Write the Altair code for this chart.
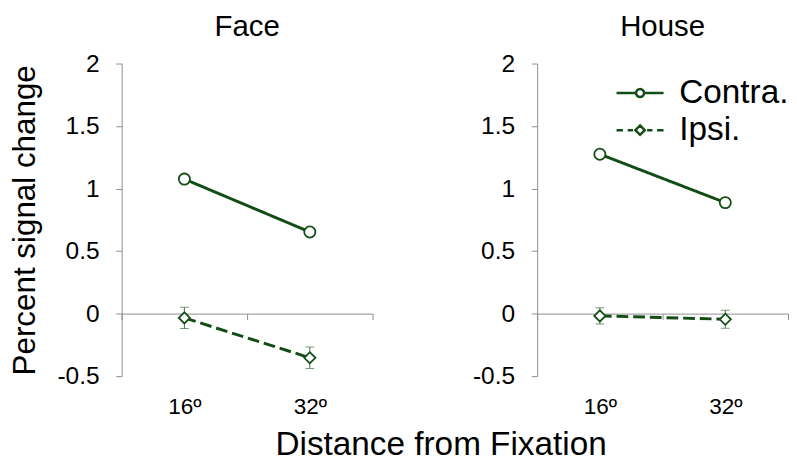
import json
import altair as alt
import pandas as pd

# ---- data ----
categories = ["Face", "Face", "Face", "Face", "House", "House", "House", "House"]
sides = ["Contra.", "Contra.", "Ipsi.", "Ipsi.", "Contra.", "Contra.", "Ipsi.", "Ipsi."]
distances = ["16º", "32º", "16º", "32º", "16º", "32º", "16º", "32º"]
means = [1.076, 0.653, -0.034, -0.353, 1.275, 0.888, -0.018, -0.045]
errors = [None, None, 0.085, 0.086, None, None, 0.065, 0.072]
dist_levels = ["16º", "32º"]
side_levels = ["Contra.", "Ipsi."]
y_ticks = [-0.5, 0, 0.5, 1, 1.5, 2]

df = pd.DataFrame({
    "category": categories,
    "side": sides,
    "dist": distances,
    "mean": means,
    "err": errors,
})
df["xpos"] = [dist_levels.index(d) + 0.5 for d in distances]
df["marker"] = df["side"]

GREEN = "#124d16"
ERRC = "#3f6d3f"
GRAY = "#8c8c8c"
FONT = "Liberation Sans"
W, H = 256, 319

# legend glyphs: line with open circle / dashed line with open diamond
LEG_CONTRA = ("M-2,0L-0.34,0M0.34,0L2,0M0.34,0A0.34,0.34,0,1,1,-0.34,0"
              "A0.34,0.34,0,1,1,0.34,0Z")
LEG_IPSI = ("M-2,0L-1.45,0M-1.05,0L-0.6,0M0.6,0L1.05,0M1.45,0L2,0"
            "M0,-0.4L0.4,0L0,0.4L-0.4,0Z")

xscale = alt.Scale(domain=[0, len(dist_levels)], nice=False, zero=False)
yscale = alt.Scale(domain=[y_ticks[0], y_ticks[-1]], nice=False, zero=False)
label_expr = json.dumps(dist_levels, ensure_ascii=False) + "[floor(datum.value)]"


def panel(cat, y_title, with_legend):
    base = alt.Chart(df).transform_filter(alt.datum.category == cat)
    yaxis = alt.Axis(values=y_ticks, labelExpr="toString(datum.value)", grid=False,
                     tickSize=6, tickColor=GRAY, domainColor=GRAY, labelFontSize=25,
                     labelPadding=17, labelColor="black", labelFont=FONT,
                     titleFontSize=32, titleFontWeight="normal", titleFont=FONT,
                     titleColor="black", titlePadding=16)

    def Y(field):
        return alt.Y(field, type="quantitative", scale=yscale, axis=yaxis, title=y_title)

    axis_zero = alt.Axis(orient="bottom", values=list(range(len(dist_levels) + 1)),
                         labels=False, grid=False, tickSize=6, tickColor=GRAY,
                         domainColor=GRAY, offset=-H * (0 - y_ticks[0]) / (y_ticks[-1] - y_ticks[0]),
                         title=None)
    axis_lab = alt.Axis(orient="bottom", values=[i + 0.5 for i in range(len(dist_levels))],
                        labelExpr=label_expr, domain=False, ticks=False, grid=False,
                        labelFontSize=23, labelPadding=20, labelColor="black",
                        labelFont=FONT, title=None)

    line = base.mark_line(strokeWidth=3, color=GREEN).encode(
        x=alt.X("xpos:Q", scale=xscale, axis=axis_zero),
        y=Y("mean"),
        strokeDash=alt.StrokeDash("side:N", scale=alt.Scale(domain=side_levels, range=[[1, 0], [12, 5]]),
                                  legend=None),
        detail="side:N",
    )
    eb = base.transform_filter("isValid(datum.err)").transform_calculate(
        lo="datum.mean - datum.err", hi="datum.mean + datum.err")
    rule = eb.mark_rule(color=ERRC, strokeWidth=1).encode(
        x=alt.X("xpos:Q", scale=xscale, axis=None),
        y=Y("lo"),
        y2="hi:Q",
    )
    cap_lo = eb.mark_tick(orient="horizontal", size=9, thickness=1, color=ERRC).encode(
        x=alt.X("xpos:Q", scale=xscale, axis=None),
        y=Y("lo"),
    )
    cap_hi = eb.mark_tick(orient="horizontal", size=9, thickness=1, color=ERRC).encode(
        x=alt.X("xpos:Q", scale=xscale, axis=None),
        y=Y("hi"),
    )
    pts = base.mark_point(filled=False, fill="white", stroke=GREEN, color=GREEN,
                          strokeWidth=1.8, size=130, opacity=1, fillOpacity=1).encode(
        x=alt.X("xpos:Q", scale=xscale, axis=axis_lab),
        y=Y("mean"),
        shape=alt.Shape("marker:N", scale=alt.Scale(range=["circle", "diamond"]),
                        legend=None),
    )
    layers = [line, rule, cap_lo, cap_hi, pts]
    if with_legend:
        leg = alt.Legend(orient="none", legendX=88, legendY=13, title=None,
                         symbolSize=576, symbolStrokeWidth=2.5, symbolOpacity=1,
                         labelFontSize=34, labelFont=FONT, labelColor="black",
                         labelOffset=23, padding=0, rowPadding=4, labelLimit=300)
        legend_layer = base.transform_filter("false").mark_point(
            filled=False, fill="white", stroke=GREEN, color=GREEN, strokeWidth=2.5,
            size=576, opacity=1).encode(
            x=alt.X("xpos:Q", scale=xscale, axis=None),
            y=Y("mean"),
            shape=alt.Shape("side:N", scale=alt.Scale(domain=side_levels, range=[LEG_CONTRA, LEG_IPSI]),
                            legend=leg),
        )
        layers.append(legend_layer)
    return alt.layer(*layers).resolve_axis(x="independent").resolve_scale(shape="independent").properties(
        width=W, height=H,
        title=alt.TitleParams(cat, fontSize=30, fontWeight="normal", font=FONT, color="black",
                              anchor="middle", frame="group", offset=10),
    )


left = panel("Face", "Percent signal change", False)
right = panel("House", None, True)

chart = alt.hconcat(left, right, spacing=100).resolve_scale(
    strokeDash="independent", shape="independent"
).properties(
    title=alt.TitleParams("Distance from Fixation", orient="bottom", anchor="middle",
                          fontSize=34, fontWeight="normal", font=FONT, color="black",
                          dx=43, offset=10),
    padding={"left": 0, "top": 0, "right": 0, "bottom": 0},
).configure_view(strokeWidth=0)

chart.save("out.html", embed_options={"renderer": "svg", "actions": False})
